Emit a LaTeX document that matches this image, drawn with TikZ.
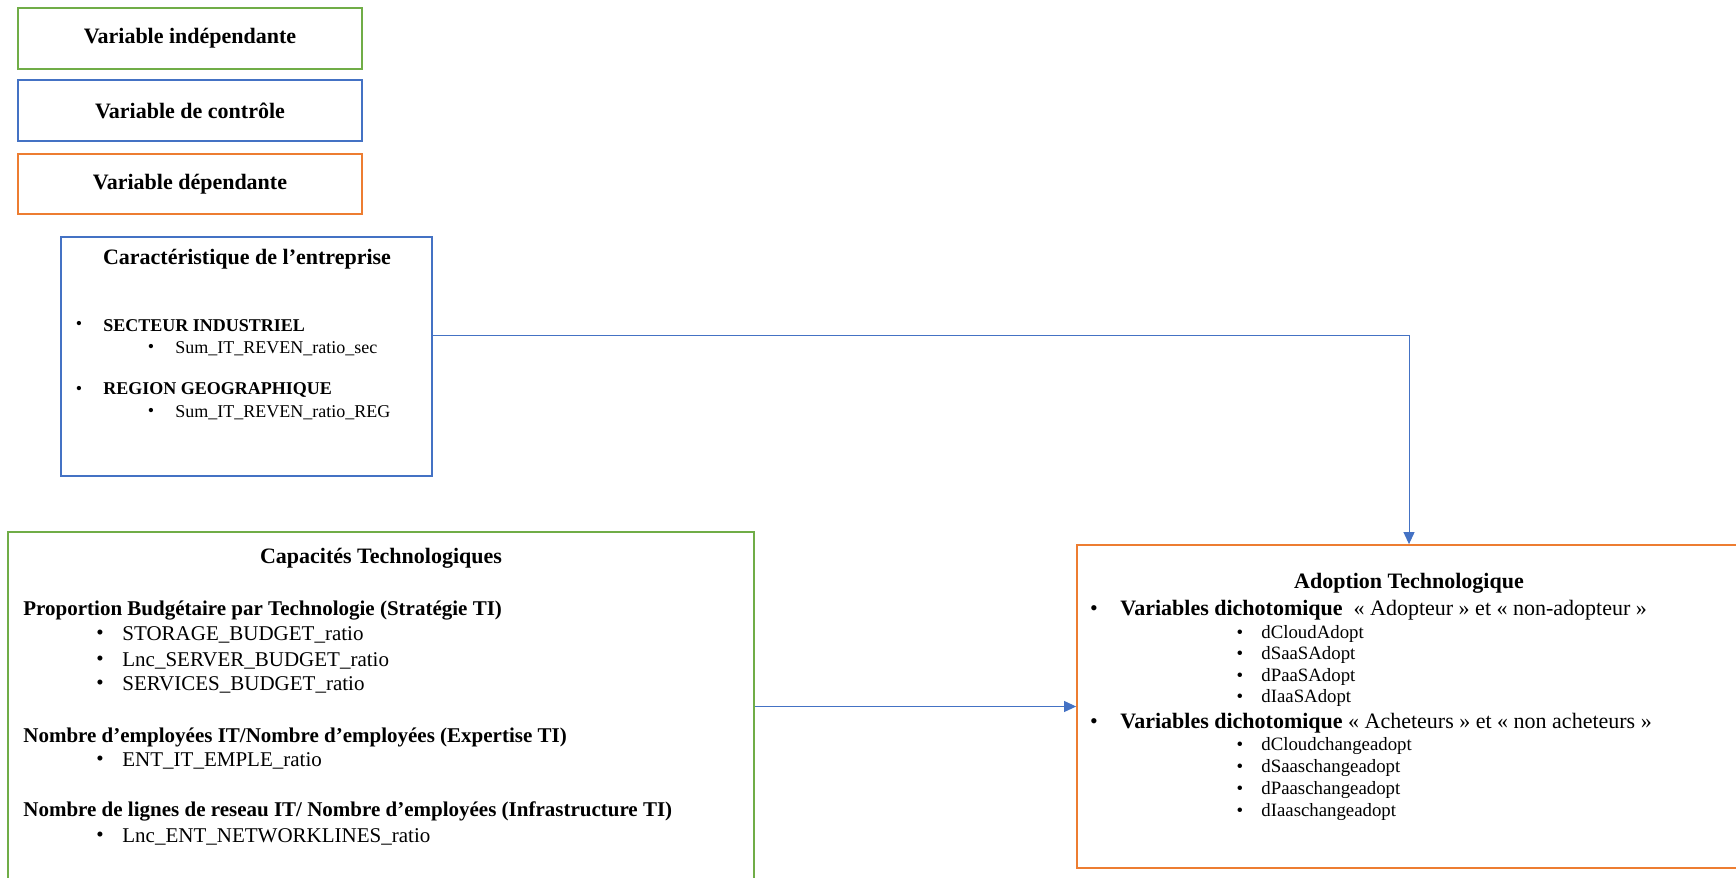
\documentclass[tikz,border=0pt]{standalone}
\usepackage{fontspec}
\setmainfont{Liberation Serif}
\usetikzlibrary{arrows.meta}
\definecolor{cgreen}{HTML}{70AD47}
\definecolor{cblue}{HTML}{4472C4}
\definecolor{corange}{HTML}{ED7D31}
\newcommand{\fbig}{\fontsize{11}{13}\selectfont}
\newcommand{\fmid}{\fontsize{10.5}{12.5}\selectfont}
\newcommand{\fsma}{\fontsize{9}{11}\selectfont}
\newcommand{\fsmb}{\fontsize{9.4}{11}\selectfont}
\begin{document}
\begin{tikzpicture}[x=0.5pt,y=-0.5pt,
  box/.style={draw, line width=0.9pt, inner sep=0pt},
  lbl/.style={inner sep=0pt, anchor=west, yshift=-1.1pt},
  bul/.style={inner sep=0pt, yshift=-1.1pt},
  ttl/.style={inner sep=0pt, yshift=-1.1pt, font=\fbig\bfseries},
  conn/.style={draw=cblue, line width=0.5pt, -{Triangle[length=6pt,width=5.5pt]}}]
\useasboundingbox (0,0) rectangle (1736,878);
\begin{scope}
\clip (0,0) rectangle (1736,878);
% legend
\node[box, draw=cgreen, minimum width=172pt, minimum height=30.5pt, font=\fbig\bfseries] (leg1) at (190,38.5) {Variable indépendante};
\node[box, draw=cblue, minimum width=172pt, minimum height=30.5pt, font=\fbig\bfseries] (leg2) at (190,110.5) {Variable de contrôle};
\node[box, draw=corange, minimum width=172pt, minimum height=30pt, font=\fbig\bfseries] (leg3) at (190,184) {Variable dépendante};

% Caracteristique
\node[box, draw=cblue, minimum width=185.5pt, minimum height=119.5pt] (car) at (246.5,356.5) {};
\node[ttl] (cart) at (247,257) {Caractéristique de l’entreprise};
\node[bul, font=\fsma] (cb1) at (79,323) {\textbullet};
\node[lbl, font=\fsma\bfseries] (ct1) at (103,323) {SECTEUR INDUSTRIEL};
\node[bul, font=\fsma] (cb2) at (151,346) {\textbullet};
\node[lbl, font=\fsma] (ct2) at (175,346) {Sum\_IT\_REVEN\_ratio\_sec};
\node[bul, font=\fsma] (cb3) at (79,388) {\textbullet};
\node[lbl, font=\fsma\bfseries] (ct3) at (103,388) {REGION GEOGRAPHIQUE};
\node[bul, font=\fsma] (cb4) at (151,410) {\textbullet};
\node[lbl, font=\fsma] (ct4) at (175,410) {Sum\_IT\_REVEN\_ratio\_REG};

% Capacites
\node[box, draw=cgreen, minimum width=373pt, minimum height=179pt] (cap) at (381,711) {};
\node[ttl] (capt) at (381,556) {Capacités Technologiques};
\node[lbl, font=\fmid\bfseries] (p1) at (23,608) {Proportion Budgétaire par Technologie (Stratégie TI)};
\node[bul, font=\fmid] (pb1) at (100,633) {\textbullet};
\node[lbl, font=\fmid] (pt1) at (122,633) {STORAGE\_BUDGET\_ratio};
\node[bul, font=\fmid] (pb2) at (100,659) {\textbullet};
\node[lbl, font=\fmid] (pt2) at (122,659) {Lnc\_SERVER\_BUDGET\_ratio};
\node[bul, font=\fmid] (pb3) at (100,683) {\textbullet};
\node[lbl, font=\fmid] (pt3) at (122,683) {SERVICES\_BUDGET\_ratio};
\node[lbl, font=\fmid\bfseries] (p2) at (23,735) {Nombre d’employées IT/Nombre d’employées (Expertise TI)};
\node[bul, font=\fmid] (pb4) at (100,759) {\textbullet};
\node[lbl, font=\fmid] (pt4) at (122,759) {ENT\_IT\_EMPLE\_ratio};
\node[lbl, font=\fmid\bfseries] (p3) at (23,809) {Nombre de lignes de reseau IT/ Nombre d’employées (Infrastructure TI)};
\node[bul, font=\fmid] (pb5) at (100,835) {\textbullet};
\node[lbl, font=\fmid] (pt5) at (122,835) {Lnc\_ENT\_NETWORKLINES\_ratio};

% Adoption
\node[box, draw=corange, minimum width=332pt, minimum height=161.5pt] (adopt) at (1409,706.5) {};
\node[ttl] (adt) at (1409,581) {Adoption Technologique};
\node[bul, font=\fbig] (ab1) at (1094,608) {\textbullet};
\node[lbl, font=\fbig] (ah1) at (1120,608) {\textbf{Variables dichotomique}\ \ « Adopteur » et « non-adopteur »};
\node[bul, font=\fsmb] (ab2) at (1240,632) {\textbullet};
\node[lbl, font=\fsmb] (at2) at (1261,632) {dCloudAdopt};
\node[bul, font=\fsmb] (ab3) at (1240,653) {\textbullet};
\node[lbl, font=\fsmb] (at3) at (1261,653) {dSaaSAdopt};
\node[bul, font=\fsmb] (ab4) at (1240,675) {\textbullet};
\node[lbl, font=\fsmb] (at4) at (1261,675) {dPaaSAdopt};
\node[bul, font=\fsmb] (ab5) at (1240,696) {\textbullet};
\node[lbl, font=\fsmb] (at5) at (1261,696) {dIaaSAdopt};
\node[bul, font=\fbig] (ab6) at (1094,721) {\textbullet};
\node[lbl, font=\fbig] (ah6) at (1120,721) {\textbf{Variables dichotomique} « Acheteurs » et « non acheteurs »};
\node[bul, font=\fsmb] (ab7) at (1240,744) {\textbullet};
\node[lbl, font=\fsmb] (at7) at (1261,744) {dCloudchangeadopt};
\node[bul, font=\fsmb] (ab8) at (1240,766) {\textbullet};
\node[lbl, font=\fsmb] (at8) at (1261,766) {dSaaschangeadopt};
\node[bul, font=\fsmb] (ab9) at (1240,788) {\textbullet};
\node[lbl, font=\fsmb] (at9) at (1261,788) {dPaaschangeadopt};
\node[bul, font=\fsmb] (ab10) at (1240,810) {\textbullet};
\node[lbl, font=\fsmb] (at10) at (1261,810) {dIaaschangeadopt};

% connectors
\coordinate (c1) at (432,335);
\draw[conn] (car.east |- c1) -| (adopt.north);
\draw[conn] (cap.east |- adopt.west) -- (adopt.west);
\end{scope}
\end{tikzpicture}
\end{document}
